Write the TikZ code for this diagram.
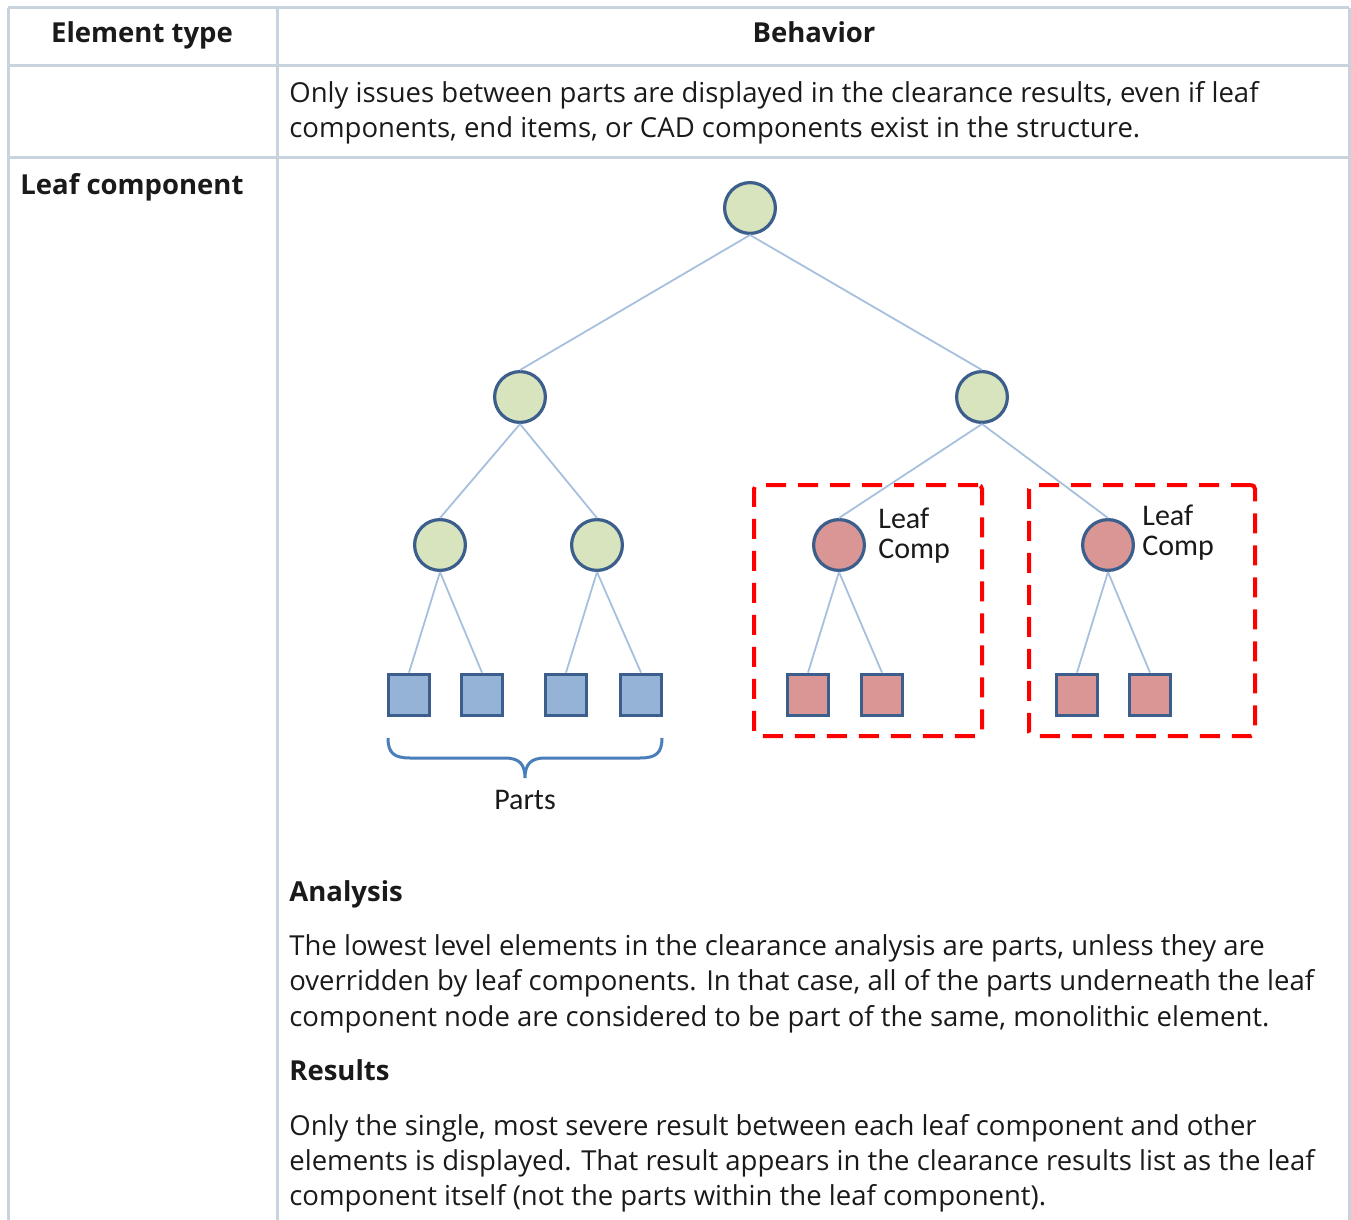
\documentclass[tikz,border=0pt]{standalone}
\usepackage{fontspec}
\setmainfont{Open Sans}
\newfontfamily\diagfont{Carlito}
\usepackage{tikz}
\definecolor{rejilla}{HTML}{C8D3DD}
\definecolor{arista}{HTML}{A6C0DD}
\definecolor{borde}{HTML}{3B5E8C}
\definecolor{verde}{HTML}{D7E4BD}
\definecolor{rosa}{HTML}{D99694}
\definecolor{azul}{HTML}{95B3D7}
\definecolor{llave}{HTML}{4A7EBB}
\definecolor{rojo}{HTML}{FF0000}
\definecolor{texto}{HTML}{1A1A1A}

\begin{document}
\begin{tikzpicture}[   % opciones por defecto
      x=0.5pt, y=-0.5pt,   % un pixel = media pt, y hacia abajo
      font=\fontsize{13.75}{15}\selectfont
    ]
    \tikzstyle{grid}=[draw=rejilla, line width=1.5pt];
    \tikzstyle{cell}=[anchor=base west, inner sep=0pt, text=texto];
    \tikzstyle{head}=[cell, font=\fontsize{13.75}{15}\selectfont\bfseries];
    \tikzstyle{ball}=[circle, draw=borde, line width=1.6pt, minimum size=25.4pt, inner sep=0pt];
    \tikzstyle{box}=[rectangle, draw=borde, line width=1.6pt, minimum size=20.8pt, inner sep=0pt];
    \tikzstyle{link}=[draw=arista, line width=0.9pt];
    \tikzstyle{leafbox}=[draw=rojo, line width=2pt, dash pattern=on 10pt off 6pt, rounded corners=2pt];
    \tikzstyle{tag}=[anchor=north west, inner sep=0pt, align=left, text=texto,
      font=\diagfont\fontsize{15}{15}\selectfont];
    %
    \useasboundingbox (0,0) rectangle (1351,1220);
    %
    % rejilla de la tabla
    \foreach \y in {8,66,158} {
      \draw[grid] (8,\y) -- (1349,\y);
    }
    \foreach \x in {8.5,277,1349} {
      \draw[grid] (\x,8) -- (\x,1220);
    }
    %
    % cabecera
    \node[head, anchor=base] (colTipo) at (142,43) {Element type};
    \node[head, anchor=base] (colComp) at (814,43) {Behavior};
    %
    % primera fila
    \node[cell] (parts1) at (289,103) {Only issues between parts are displayed in the clearance results, even if leaf};
    \node[cell] (parts2) at (289,138) {components, end items, or CAD components exist in the structure.};
    %
    % segunda fila
    \node[head] (leafRow) at (20,195) {Leaf component};
    %
    % arbol: nodos circulares
    \node[ball, fill=verde] (root) at (750,208) {};
    \node[ball, fill=verde] (izq)  at (520,397) {};
    \node[ball, fill=verde] (der)  at (982,397) {};
    \node[ball, fill=verde] (a)    at (440,545) {};
    \node[ball, fill=verde] (b)    at (597,545) {};
    \node[ball, fill=rosa]  (hojaA) at (839,545) {};
    \node[ball, fill=rosa]  (hojaB) at (1108,545) {};
    %
    % piezas
    \node[box, fill=azul] (p1) at (409,695) {};
    \node[box, fill=azul] (p2) at (482,695) {};
    \node[box, fill=azul] (p3) at (566,695) {};
    \node[box, fill=azul] (p4) at (641,695) {};
    \node[box, fill=rosa] (q1) at (808,695) {};
    \node[box, fill=rosa] (q2) at (882,695) {};
    \node[box, fill=rosa] (q3) at (1077,695) {};
    \node[box, fill=rosa] (q4) at (1150,695) {};
    %
    % conexiones padre - hijo
    \foreach \u/\v in {root/izq, root/der, izq/a, izq/b, der/hojaA, der/hojaB,
                       a/p1, a/p2, b/p3, b/p4, hojaA/q1, hojaA/q2, hojaB/q3, hojaB/q4} {
      \path[link] (\u.south) edge (\v.north);
    }
    %
    % recuadros de los leaf components
    \node[leafbox, minimum width=114pt, minimum height=125.5pt] (zonaA) at (868,610.5) {};
    \node[leafbox, minimum width=113pt, minimum height=125.5pt] (zonaB) at (1142,610.5) {};
    \node[tag] (tagA) at (878,508) {Leaf\\Comp};
    \node[tag] (tagB) at (1142,505) {Leaf\\Comp};
    %
    % llave bajo las piezas
    \coordinate (llI) at (388,738);
    \coordinate (llD) at (662,738);
    \coordinate (llP) at (525,778);
    \draw[llave, line width=1.5pt] (llI) .. controls (388,753) and (394,758) .. (410,758)
      -- (505,758) .. controls (519,758) and (525,764) .. (llP)
      .. controls (525,764) and (531,758) .. (545,758)
      -- (640,758) .. controls (656,758) and (662,753) .. (llD);
    \node[tag, anchor=north] (parts) at (llP |- 0,790) {Parts};
    %
    % analisis
    \node[head] (anaTit) at (289,901) {Analysis};
    \node[cell] (ana1) at (289,955) {The lowest level elements in the clearance analysis are parts, unless they are};
    \node[cell] (ana2) at (289,990) {overridden by leaf components. In that case, all of the parts underneath the leaf};
    \node[cell] (ana3) at (289,1026) {component node are considered to be part of the same, monolithic element.};
    %
    % resultados
    \node[head] (resTit) at (289,1080) {Results};
    \node[cell] (res1) at (289,1135) {Only the single, most severe result between each leaf component and other};
    \node[cell] (res2) at (289,1170) {elements is displayed. That result appears in the clearance results list as the leaf};
    \node[cell] (res3) at (289,1205) {component itself (not the parts within the leaf component).};
  \end{tikzpicture}
\end{document}
